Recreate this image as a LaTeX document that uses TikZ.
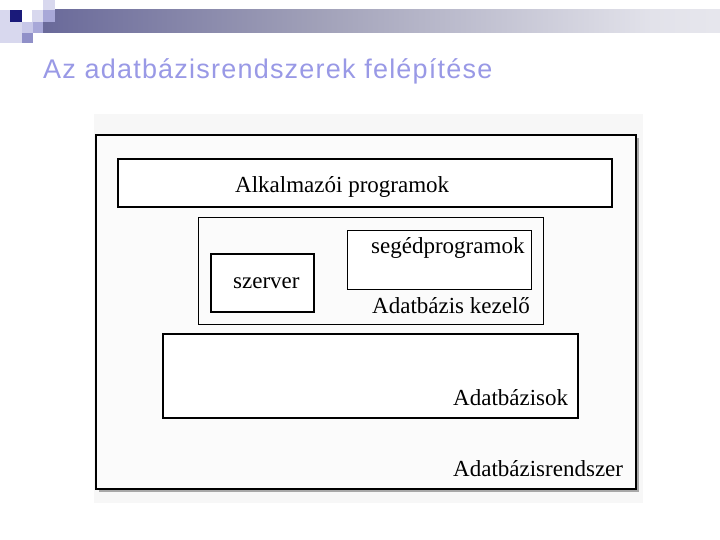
\documentclass[tikz,border=0pt]{standalone}
\usepackage{fontspec}
\setmainfont{Liberation Serif}
\newfontfamily\titlefont{Liberation Sans}
\definecolor{navy}{HTML}{1A1A7A}
\definecolor{barA}{HTML}{5C5C92}
\definecolor{barB}{HTML}{A0A0B8}
\definecolor{barC}{HTML}{E2E2EA}
\definecolor{barD}{HTML}{F4F4F6}
\definecolor{titleblue}{HTML}{9999E6}
\definecolor{sqlight}{HTML}{D8D8EE}
\definecolor{sqpale}{HTML}{C8C8E8}
\definecolor{sqmid}{HTML}{A8A8D8}
\definecolor{sqdark}{HTML}{9090C8}
\definecolor{picbg}{HTML}{F7F7F7}
\definecolor{framebg}{HTML}{FBFBFB}
\definecolor{shadowgray}{HTML}{A8A8A8}
\pgfdeclarehorizontalshading{barshade}{100bp}{
  color(0bp)=(navy);
  color(20bp)=(barA);
  color(45bp)=(barB);
  color(70bp)=(barC);
  color(90bp)=(barD);
  color(100bp)=(white)}
\tikzset{
  thickbox/.style={draw=black, line width=2pt},
  thinbox/.style={draw=black, line width=1pt},
  lbl/.style={font=\fontsize{23}{25}\selectfont, inner sep=0pt, anchor=base west},
}
\begin{document}
\begin{tikzpicture}[x=1pt,y=-1pt]
\useasboundingbox (0,0) rectangle (720,540);
\fill[white] (0,0) rectangle (720,540);
% header decoration
\shade[shading=barshade] (43,10) rectangle (720,33);
\fill[sqlight] (0,10) rectangle (10,43);
\fill[sqlight] (10,22) rectangle (22,43);
\fill[sqlight] (43,0) rectangle (55,10);
\fill[sqlight] (32,10) rectangle (43,22);
\fill[sqmid] (43,10) rectangle (55,22);
\fill[navy] (10,10) rectangle (22,22);
\fill[sqpale] (22,22) rectangle (33,33);
\fill[sqmid] (33,22) rectangle (43,33);
\fill[sqdark] (22,33) rectangle (33,43);
% title
\node[anchor=base west, inner sep=0pt, text=titleblue, font=\titlefont\fontsize{27}{30}\selectfont\addfontfeature{LetterSpace=4.5}] (title) at (43,79) {Az adatbázisrendszerek felépítése};
% picture background
\fill[picbg] (94,114) rectangle (643,503);
\fill[shadowgray] (99,138) rectangle (639,492);
\draw[thickbox, fill=framebg] (96,135) rectangle (636,489);
% boxes
\draw[thinbox, line width=1.5pt, fill=white] (118,159) rectangle (612,207);
\node[lbl] (alk) at (235,193) {Alkalmazói programok};
\draw[thinbox, fill=framebg] (198,218) rectangle (543,324);
\draw[thinbox, fill=white] (347,231) rectangle (531,289);
\node[lbl] (seg) at (371,253) {segédprogramok};
\node[lbl] (kez) at (372,313) {Adatbázis kezelő};
\draw[thickbox, fill=white] (211,254) rectangle (314,312);
\node[lbl] (szer) at (233,288) {szerver};
\draw[thinbox, line width=1.5pt, fill=white] (163,334) rectangle (578,418);
\node[lbl] (adb) at (453,405) {Adatbázisok};
\node[lbl] (rend) at (453,476) {Adatbázisrendszer};
\end{tikzpicture}
\end{document}
